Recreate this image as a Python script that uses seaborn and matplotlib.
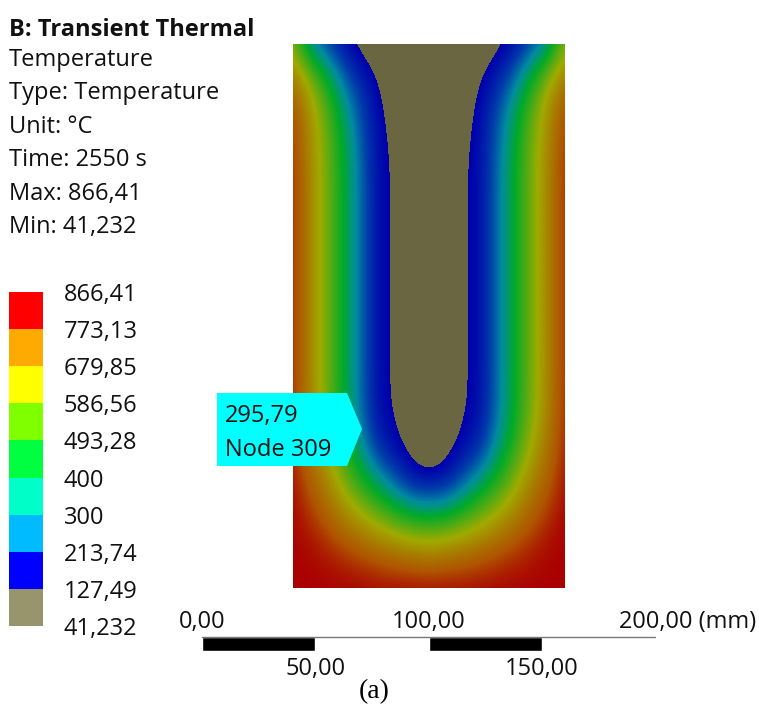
import numpy as np
import matplotlib
matplotlib.use("Agg")
import matplotlib.pyplot as plt
import seaborn as sns
from matplotlib.colors import BoundaryNorm, LinearSegmentedColormap, ListedColormap, Normalize
from matplotlib.patches import Polygon


# =========================
# Data
# =========================

header_title = "B: Transient Thermal"
header_lines = ["Temperature", "Type: Temperature", "Unit: °C", "Time: 2550 s",
                "Max: 866,41", "Min: 41,232"]

legend_labels = ["866,41", "773,13", "679,85", "586,56", "493,28",
                 "400", "300", "213,74", "127,49", "41,232"]
legend_levels = [866.41, 773.13, 679.85, 586.56, 493.28, 400, 300, 213.74, 127.49, 41.232]
legend_colors = ["#ff0000", "#ffaa00", "#ffff00", "#80ff00", "#00ff40",
                 "#00ffc8", "#00bbff", "#0000ff", "#98946c"]

probe_lines = ["295,79", "Node 309"]

scale_bars_mm = [(0, 50), (100, 50)]
scale_top = [(0, "0,00"), (100, "100,00")]
scale_bottom = [(50, "50,00"), (150, "150,00")]

# temperature samples on the left half of the section, centre column last
col_mm = [0, 7.5, 15, 22.5, 30, 37.5, 45, 52.5, 60]
row_mm = [0, 15, 30, 45, 60, 75, 90, 105, 120, 135, 150, 165, 180, 195, 210, 225, 240]
temp_left = [
    [540, 300, 210, 142, 104, 85, 70, 60, 55],
    [700, 560, 400, 260, 170, 122, 90, 72, 65],
    [790, 640, 500, 350, 225, 137, 106, 80, 70],
    [810, 660, 525, 385, 250, 141, 118, 90, 78],
    [820, 670, 530, 395, 260, 142, 122, 90, 78],
    [820, 670, 530, 395, 260, 142, 122, 90, 78],
    [820, 670, 530, 395, 260, 142, 122, 90, 78],
    [820, 670, 530, 395, 260, 142, 122, 90, 78],
    [820, 670, 530, 395, 260, 142, 122, 90, 78],
    [820, 670, 530, 395, 260, 142, 122, 90, 78],
    [820, 670, 530, 395, 260, 142, 122, 92, 80],
    [825, 680, 540, 400, 270, 150, 124, 90, 80],
    [835, 710, 600, 450, 330, 200, 150, 104, 70],
    [850, 760, 680, 560, 450, 360, 260, 185, 165],
    [866, 820, 760, 690, 620, 550, 490, 430, 420],
    [866, 860, 840, 810, 780, 750, 720, 700, 680],
    [866, 866, 866, 866, 866, 860, 860, 860, 860],
]

# field colours against temperature
field_temps = [41.232, 127.48, 127.49, 213.74, 300, 400, 586.56, 773.13, 866.41]
field_colors = ["#6a6642", "#6a6642", "#0000aa", "#003caa", "#008ca0", "#00aa28",
                "#a0aa00", "#af5500", "#aa0000"]


# =========================
# Figure
# =========================

sns.set_theme(style="white")
plt.rcParams["font.family"] = ["Open Sans", "DejaVu Sans"]

W, H = 759, 704
fig = plt.figure(figsize=(W / 100, H / 100), dpi=100, facecolor="white")


def px_axes(left, top, right, bottom, **kw):
    return fig.add_axes([left / W, 1 - bottom / H, (right - left) / W, (bottom - top) / H], **kw)


# =========================
# Temperature field
# =========================

temp_half = np.array(temp_left, dtype=float)
temp_full = np.hstack([temp_half, temp_half[:, -2::-1]])

positions = [(t - field_temps[0]) / (field_temps[-1] - field_temps[0]) for t in field_temps]
field_cmap = LinearSegmentedColormap.from_list("field", list(zip(positions, field_colors)), N=1024)

ax_field = px_axes(293, 44, 565, 588)
ax_field.imshow(
    temp_full,
    cmap=field_cmap,
    norm=Normalize(field_temps[0], field_temps[-1]),
    extent=(-3.75, 123.75, 247.5, -7.5),
    interpolation="bicubic",
    interpolation_stage="data",
    aspect="auto",
)
ax_field.set_xlim(0, 120)
ax_field.set_ylim(240, 0)
ax_field.axis("off")


# =========================
# Legend strip
# =========================

ax_legend = px_axes(9, 292, 43, 626)
legend_cells = np.array(legend_levels[1:]).reshape(-1, 1)
sns.heatmap(
    legend_cells,
    ax=ax_legend,
    cmap=ListedColormap(legend_colors[::-1]),
    norm=BoundaryNorm(legend_levels[::-1], len(legend_colors)),
    cbar=False,
    xticklabels=False,
)
ax_legend.set_yticks(np.arange(len(legend_labels)))
ax_legend.set_yticklabels(legend_labels, rotation=0, fontsize=17, color="#111111")
ax_legend.yaxis.tick_right()
ax_legend.tick_params(axis="y", length=0, pad=15)


# =========================
# Scale bar
# =========================

ax_scale = px_axes(202, 637, 655, 651)
ax_scale.set_xlim(0, 200)
ax_scale.set_ylim(1, 0)
ax_scale.axis("off")
for start, length in scale_bars_mm:
    ax_scale.barh(0.5, length, left=start, height=1, color="black")
ax_scale.plot([0, 200], [0.03, 0.03], color="#777777", lw=1, clip_on=False)
for mm, label in scale_top:
    ax_scale.annotate(label, (mm, 0), xytext=(0, 2), textcoords="offset points",
                      ha="center", va="bottom", fontsize=17, color="#111111")
ax_scale.annotate("200,00 (mm)", (200, 0), xytext=(-26, 2), textcoords="offset points",
                  ha="left", va="bottom", fontsize=17, color="#111111")
for mm, label in scale_bottom:
    ax_scale.annotate(label, (mm, 1), xytext=(0, -4), textcoords="offset points",
                      ha="center", va="top", fontsize=17, color="#111111")


# =========================
# Text and probe label
# =========================

ax_top = px_axes(0, 0, W, H)
ax_top.set_xlim(0, W)
ax_top.set_ylim(H, 0)
ax_top.axis("off")
ax_top.patch.set_alpha(0)

ax_top.text(9, 30, header_title, fontsize=17, fontweight="bold", va="center", color="#111111")
for y, line in zip([60, 93, 127, 160, 194, 227], header_lines):
    ax_top.text(9, y, line, fontsize=17, va="center", color="#111111")

ax_top.add_patch(Polygon([(217, 393), (347, 393), (362, 429), (347, 466), (217, 466)],
                         closed=True, facecolor="#00ffff", edgecolor="none"))
ax_top.text(225, 416, probe_lines[0], fontsize=17, va="center", color="#111111")
ax_top.text(225, 450, probe_lines[1], fontsize=17, va="center", color="#111111")

ax_top.text(374, 692, "(a)", fontsize=20, family="Liberation Serif",
            ha="center", va="center", color="black")

fig.savefig("out.png", dpi=100)
plt.close(fig)
